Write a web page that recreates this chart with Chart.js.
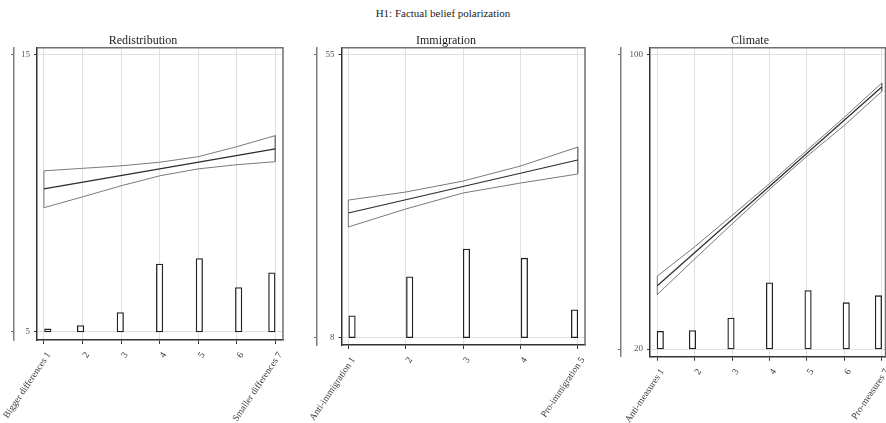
<!DOCTYPE html>
<html>
<head>
<meta charset="utf-8">
<script src="https://cdn.jsdelivr.net/npm/chart.js@4.4.1/dist/chart.umd.min.js"></script>
<style>
  body { margin: 0; background: #fff; width: 886px; height: 423px; overflow: hidden; position: relative; font-family: "Liberation Serif", serif; }
  #title { position: absolute; top: 6px; left: 0; width: 886px; text-align: center; font-size: 11px; line-height: 14px; color: #222; }
  .panel { position: absolute; top: 0; height: 423px; }
</style>
</head>
<body>
<div id="title">H1: Factual belief polarization</div>
<div class="panel" style="left:0;width:286px"><canvas id="redist"></canvas></div>
<div class="panel" style="left:300px;width:292px"><canvas id="immig"></canvas></div>
<div class="panel" style="left:610px;width:276px"><canvas id="climate"></canvas></div>
<script>
// Redistribution
const redistCats = [1, 2, 3, 4, 5, 6, 7];
const redistLabels = ["Bigger differences 1", "2", "3", "4", "5", "6", "Smaller differences 7"];
const redistTicks = [5, 15];
const redistBarX = [1.1, 1.95, 2.98, 4.0, 5.03, 6.05, 6.91];
const redistBarTop = [5.11, 5.23, 5.70, 7.45, 7.65, 6.60, 7.13];
const redistFit = [10.16, 11.60];   // first and last category
const redistUpper = [10.81, 10.90, 10.99, 11.12, 11.32, 11.68, 12.08];
const redistLower = [9.48, 9.87, 10.27, 10.63, 10.88, 11.03, 11.14];

// Immigration
const immigCats = [1, 2, 3, 4, 5];
const immigLabels = ["Anti-immigration 1", "2", "3", "4", "Pro-immigration 5"];
const immigTicks = [8, 55];
const immigBarX = [1.065, 2.07, 3.06, 4.07, 4.945];
const immigBarTop = [11.65, 18.1, 22.7, 21.2, 12.64];
const immigFit = [28.7, 37.5];
const immigUpper = [30.85, 32.18, 34.0, 36.49, 39.64];
const immigLower = [26.38, 29.36, 32.02, 33.67, 35.17];

// Climate
const climateCats = [1, 2, 3, 4, 5, 6, 7];
const climateLabels = ["Anti-measures 1", "2", "3", "4", "5", "6", "Pro-measures 7"];
const climateTicks = [20, 100];
const climateBarX = [1.08, 1.94, 2.97, 4.0, 5.03, 6.05, 6.91];
const climateBarTop = [24.8, 25.0, 28.4, 38.0, 35.9, 32.6, 34.5];
const climateFit = [37.2, 91.2];
const climateUpper = [39.8, 47.8, 56.3, 65.0, 74.0, 83.0, 92.3];
const climateLower = [34.8, 44.5, 54.0, 63.4, 72.4, 80.8, 90.0];

Chart.defaults.font.family = "'Liberation Serif', serif";
Chart.defaults.animation = false;

const frame = {
  id: 'frame',
  beforeDatasetsDraw(chart) {
    const { ctx, chartArea: a } = chart;
    ctx.save();
    ctx.strokeStyle = '#707070';
    ctx.lineWidth = 1.5;
    ctx.beginPath();
    ctx.moveTo(a.left, a.top);
    ctx.lineTo(a.right, a.top);
    ctx.lineTo(a.right, a.bottom);
    ctx.stroke();
    ctx.restore();
  }
};

function panel(id, title, cats, labels, ticksY, barX, barTop, fit, upper, lower, lay) {
  const base = ticksY[0];
  const ci = cats.map((c, i) => ({ x: c, y: upper[i] }))
    .concat(cats.map((c, i) => ({ x: c, y: lower[i] })).reverse());
  ci.push(ci[0]);
  const yTicks = s => { s.ticks = ticksY.map(v => ({ value: v })); };

  new Chart(document.getElementById(id), {
    type: 'bar',
    data: {
      datasets: [
        { type: 'line', data: [{ x: cats[0], y: fit[0] }, { x: cats[cats.length - 1], y: fit[1] }],
          borderColor: '#2b2b2b', borderWidth: 1.2, pointRadius: 0, fill: false },
        { type: 'line', data: ci, borderColor: '#7a7a7a', borderWidth: 1, pointRadius: 0, fill: false },
        { type: 'bar', data: barX.map((x, i) => ({ x: x, y: [base, barTop[i]] })),
          backgroundColor: '#fff', borderColor: '#222', borderWidth: 1.3,
          barThickness: 6.5, borderSkipped: false }
      ]
    },
    options: {
      responsive: true,
      maintainAspectRatio: false,
      layout: { padding: { left: lay.padL, right: lay.padR, top: 0, bottom: 0 } },
      plugins: {
        legend: { display: false },
        tooltip: { enabled: false },
        title: { display: true, text: title, color: '#222',
                 font: { size: 12, weight: 'normal' }, padding: { top: 33.3, bottom: 0 } }
      },
      scales: {
        x: {
          type: 'linear', min: lay.xmin, max: lay.xmax, offset: false,
          afterBuildTicks: s => { s.ticks = cats.map(v => ({ value: v })); },
          afterFit: s => { s.height = lay.xh; s.paddingLeft = 0; s.paddingRight = 0; },
          ticks: { autoSkip: false, minRotation: 56, maxRotation: 56, padding: 6, labelOffset: 5,
                   color: '#3a3a3a', font: { size: 9.5 },
                   callback: v => labels[cats.indexOf(v)] },
          grid: { color: '#e0e0e0', lineWidth: 1, offset: false, tickColor: '#333', tickLength: 4 },
          border: { color: '#333', width: 1.5 }
        },
        y: {
          min: lay.ymin, max: lay.ymax, weight: 0,
          afterBuildTicks: yTicks,
          afterFit: s => { s.width = lay.yw; s.paddingTop = 0; s.paddingBottom = 0; },
          ticks: { color: '#555', font: { size: 9 }, padding: 4 },
          grid: { color: '#e0e0e0', lineWidth: 1, tickColor: '#333', tickLength: 3 },
          border: { color: '#333', width: 1.5 }
        },
        y2: {
          position: 'left', weight: 1, min: lay.ymin, max: lay.ymax,
          afterBuildTicks: yTicks,
          afterFit: s => { s.width = lay.y2w; s.paddingTop = 0; s.paddingBottom = 0; },
          ticks: { display: false },
          grid: { drawOnChartArea: false, tickColor: '#666', tickLength: 3 },
          border: { color: '#808080', width: 1.5 }
        }
      }
    },
    plugins: [frame]
  });
}

panel('redist', 'Redistribution', redistCats, redistLabels, redistTicks,
  redistBarX, redistBarTop, redistFit, redistUpper, redistLower,
  { padL: 3, padR: 3, y2w: 11, yw: 23, xh: 83, xmin: 0.82, xmax: 7.2, ymin: 4.71, ymax: 15.25 });

panel('immig', 'Immigration', immigCats, immigLabels, immigTicks,
  immigBarX, immigBarTop, immigFit, immigUpper, immigLower,
  { padL: 7, padR: 7, y2w: 10, yw: 24.5, xh: 78, xmin: 0.881, xmax: 5.127, ymin: 6.79, ymax: 56.14 });

panel('climate', 'Climate', climateCats, climateLabels, climateTicks,
  climateBarX, climateBarTop, climateFit, climateUpper, climateLower,
  { padL: 4.5, padR: 0.5, y2w: 6.5, yw: 29, xh: 66.3, xmin: 0.805, xmax: 7.1, ymin: 17.91, ymax: 101.9 });
</script>
</body>
</html>
